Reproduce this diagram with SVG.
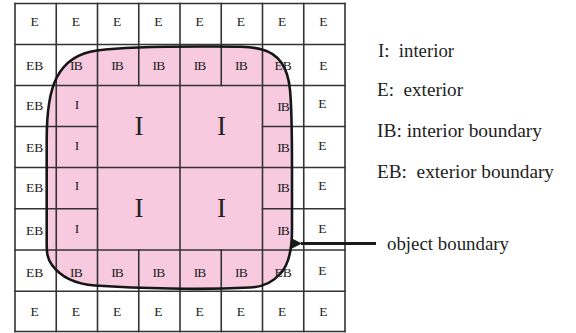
<svg xmlns="http://www.w3.org/2000/svg" width="576" height="333" viewBox="0 0 576 333">
  <style>
    .grid line { stroke: #333333; stroke-width: 1.6; stroke-linecap: square; }
    .blob { fill: #f8cadf; stroke: none; }
    .outline { fill: none; stroke: #161616; stroke-width: 2.6; stroke-linejoin: round; }
    .cell { font-family: "Liberation Serif", "Times New Roman", serif; font-size: 13.5px; fill: #222222; text-anchor: middle; }
    .tight { letter-spacing: -0.8px; }
    .big { font-family: "Liberation Serif", "Times New Roman", serif; font-size: 27px; fill: #222222; text-anchor: middle; }
    .legend { font-family: "Liberation Serif", "Times New Roman", serif; font-size: 19px; fill: #1e1e1e; }
    .arrow { stroke: #1a1a1a; stroke-width: 3; fill: none; }
  </style>
  <defs>
    <marker id="head" markerWidth="10" markerHeight="10" refX="1" refY="5" orient="auto" markerUnits="userSpaceOnUse" viewBox="0 0 10 10">
      <path d="M10,0 L0,5 L10,10 Z" fill="#1a1a1a"/>
    </marker>
  </defs>

  <rect width="576" height="333" fill="#ffffff"/>

  <!-- pink object region -->
  <g id="object">
    <path class="blob" d="M97,50.5 C120,47.5 160,46.5 200,46.5 C230,46.5 250,46 262,49.5 C280,54 288,68 290,90 C292,110 292,140 292,170 L292,230 C292,250 288,266 280,274 C272,283 262,287 250,287.5 C220,289 190,289 170,288.5 C140,288 110,286.5 95,285.5 C75,284 60,276 52,265 C47,258 46.7,252 46.7,245 L46.7,140 C46.7,110 50,90 57,77 C65,62 78,53 97,50.5 Z"/>
  </g>

  <!-- cell grid -->
  <g id="grid" class="grid">
    <line x1="15" y1="3.5" x2="345" y2="3.5"/>
    <line x1="15" y1="44.5" x2="345" y2="44.5"/>
    <line x1="15" y1="85.5" x2="345" y2="85.5"/>
    <line x1="15" y1="126.5" x2="97.5" y2="126.5"/>
    <line x1="262.5" y1="126.5" x2="345" y2="126.5"/>
    <line x1="15" y1="167.5" x2="345" y2="167.5"/>
    <line x1="15" y1="208.7" x2="97.5" y2="208.7"/>
    <line x1="262.5" y1="208.7" x2="345" y2="208.7"/>
    <line x1="15" y1="250" x2="345" y2="250"/>
    <line x1="15" y1="291.3" x2="345" y2="291.3"/>
    <line x1="15" y1="331.5" x2="345" y2="331.5"/>

    <line x1="15" y1="3.5" x2="15" y2="331.5"/>
    <line x1="56.25" y1="3.5" x2="56.25" y2="331.5"/>
    <line x1="97.5" y1="3.5" x2="97.5" y2="331.5"/>
    <line x1="138.75" y1="3.5" x2="138.75" y2="85.5"/>
    <line x1="138.75" y1="250" x2="138.75" y2="331.5"/>
    <line x1="180" y1="3.5" x2="180" y2="331.5"/>
    <line x1="221.25" y1="3.5" x2="221.25" y2="85.5"/>
    <line x1="221.25" y1="250" x2="221.25" y2="331.5"/>
    <line x1="262.5" y1="3.5" x2="262.5" y2="331.5"/>
    <line x1="303.75" y1="3.5" x2="303.75" y2="331.5"/>
    <line x1="345" y1="3.5" x2="345" y2="331.5"/>
  </g>

  <!-- object boundary curve -->
  <g id="boundary">
    <path class="outline" d="M97,50.5 C120,47.5 160,46.5 200,46.5 C230,46.5 250,46 262,49.5 C280,54 288,68 290,90 C292,110 292,140 292,170 L292,230 C292,250 288,266 280,274 C272,283 262,287 250,287.5 C220,289 190,289 170,288.5 C140,288 110,286.5 95,285.5 C75,284 60,276 52,265 C47,258 46.7,252 46.7,245 L46.7,140 C46.7,110 50,90 57,77 C65,62 78,53 97,50.5 Z"/>
  </g>

  <!-- cell labels -->
  <g id="row0" class="cell">
    <text x="34.6" y="26">E</text><text x="75.9" y="26">E</text><text x="117.1" y="26">E</text><text x="158.4" y="26">E</text>
    <text x="199.6" y="26">E</text><text x="240.9" y="26">E</text><text x="282.1" y="26">E</text><text x="323.4" y="26">E</text>
  </g>
  <g id="row1" class="cell">
    <text x="34.6" y="70">EB</text><text class="tight" x="75.9" y="70">IB</text><text class="tight" x="117.1" y="70">IB</text><text class="tight" x="158.4" y="70">IB</text>
    <text class="tight" x="199.6" y="70">IB</text><text class="tight" x="240.9" y="70">IB</text><text x="283.1" y="70">EB</text><text x="323.4" y="70">E</text>
  </g>
  <g id="row2" class="cell">
    <text x="34.6" y="110">EB</text><text x="76.9" y="109">I</text><text class="tight" x="283.1" y="111">IB</text><text x="322.4" y="108">E</text>
  </g>
  <g id="row3" class="cell">
    <text x="34.6" y="152">EB</text><text x="76.9" y="150">I</text><text class="tight" x="283.1" y="152">IB</text><text x="322.4" y="150">E</text>
  </g>
  <g id="row4" class="cell">
    <text x="34.6" y="192">EB</text><text x="76.9" y="190">I</text><text class="tight" x="283.1" y="192">IB</text><text x="322.4" y="190">E</text>
  </g>
  <g id="row5" class="cell">
    <text x="34.6" y="235">EB</text><text x="76.9" y="233">I</text><text class="tight" x="283.1" y="235">IB</text><text x="322.4" y="233">E</text>
  </g>
  <g id="row6" class="cell">
    <text x="34.6" y="276.5">EB</text><text class="tight" x="75.9" y="276.5">IB</text><text class="tight" x="117.1" y="276.5">IB</text><text class="tight" x="158.4" y="276.5">IB</text>
    <text class="tight" x="199.6" y="276.5">IB</text><text class="tight" x="240.9" y="276.5">IB</text><text x="283.1" y="276.5">EB</text><text x="322.4" y="275">E</text>
  </g>
  <g id="row7" class="cell">
    <text x="34.6" y="316">E</text><text x="75.9" y="316">E</text><text x="117.1" y="316">E</text><text x="158.4" y="316">E</text>
    <text x="199.6" y="316">E</text><text x="240.9" y="316">E</text><text x="282.1" y="316">E</text><text x="323.4" y="316">E</text>
  </g>

  <!-- interior blocks -->
  <g id="interior" class="big">
    <text x="139" y="135">I</text>
    <text x="221.5" y="135">I</text>
    <text x="139" y="217">I</text>
    <text x="221.5" y="217">I</text>
  </g>

  <!-- legend -->
  <g id="legend" class="legend">
    <text x="378" y="57" xml:space="preserve" textLength="76" lengthAdjust="spacingAndGlyphs">I:  interior</text>
    <text x="377" y="96" xml:space="preserve" textLength="86" lengthAdjust="spacingAndGlyphs">E:  exterior</text>
    <text x="377" y="137" textLength="165" lengthAdjust="spacingAndGlyphs">IB: interior boundary</text>
    <text x="377" y="178" xml:space="preserve" textLength="177" lengthAdjust="spacingAndGlyphs">EB:  exterior boundary</text>
  </g>

  <!-- pointer to the boundary -->
  <g id="connectors">
    <line class="arrow" x1="376" y1="243.5" x2="301" y2="243.5" marker-end="url(#head)"/>
  </g>
  <g id="pointer-label" class="legend">
    <text x="387" y="249.5" textLength="122" lengthAdjust="spacingAndGlyphs">object boundary</text>
  </g>
</svg>
